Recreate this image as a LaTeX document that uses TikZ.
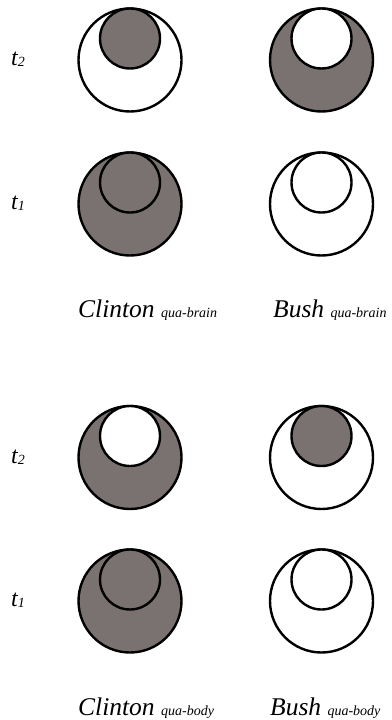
\documentclass[tikz,border=0pt]{standalone}
\usepackage{fontspec}
\setmainfont{Liberation Serif}
\definecolor{shade}{RGB}{122,114,112}
\begin{document}
\begin{tikzpicture}[x=1pt,y=-1pt,
  ring/.style={circle,draw=black,line width=2.4pt,inner sep=0pt,outer sep=0pt},
  outer/.style={ring,minimum size=103pt},
  inner/.style={ring,minimum size=60pt},
  lbl/.style={anchor=base west,inner sep=0pt,font=\fontsize{25.5}{28}\selectfont\itshape},
  tlbl/.style={anchor=base west,inner sep=0pt,font=\fontsize{24}{26}\selectfont\itshape}]
\useasboundingbox (0,0) rectangle (391,720);
\newcommand{\qua}[1]{{\fontsize{14}{16}\selectfont #1}}
\newcommand{\tsub}[1]{t\raisebox{-1pt}{\fontsize{14}{16}\selectfont #1}}

% --- brain panel ---
% t2
\node[outer,fill=white] (cbo2) at (130,60) {};
\node[inner,fill=shade] (cbi2) at (130,38.5) {};
\node[outer,fill=shade] (bbo2) at (321.5,60) {};
\node[inner,fill=white] (bbi2) at (321.5,38.5) {};
% t1
\node[outer,fill=shade] (cbo1) at (130,204) {};
\node[inner,fill=shade] (cbi1) at (130,182.5) {};
\node[outer,fill=white] (bbo1) at (321.5,204) {};
\node[inner,fill=white] (bbi1) at (321.5,182.5) {};

\node[tlbl] (bt2) at (11,65) {\tsub{2}};
\node[tlbl] (bt1) at (11,209) {\tsub{1}};

\node[lbl] (cbrain) at (78,317) {Clinton \qua{qua-brain}};
\node[lbl] (bbrain) at (273,317) {Bush \qua{qua-brain}};

% --- body panel ---
% t2
\node[outer,fill=shade] (cyo2) at (130,457.5) {};
\node[inner,fill=white] (cyi2) at (130,436) {};
\node[outer,fill=white] (byo2) at (321.5,457.5) {};
\node[inner,fill=shade] (byi2) at (321.5,436) {};
% t1
\node[outer,fill=shade] (cyo1) at (130,601) {};
\node[inner,fill=shade] (cyi1) at (130,579.5) {};
\node[outer,fill=white] (byo1) at (321.5,601) {};
\node[inner,fill=white] (byi1) at (321.5,579.5) {};

\node[tlbl] (yt2) at (11,463) {\tsub{2}};
\node[tlbl] (yt1) at (11,606) {\tsub{1}};

\node[lbl] (cbody) at (78,715) {Clinton \qua{qua-body}};
\node[lbl] (bbody) at (270,715) {Bush \qua{qua-body}};
\end{tikzpicture}
\end{document}
